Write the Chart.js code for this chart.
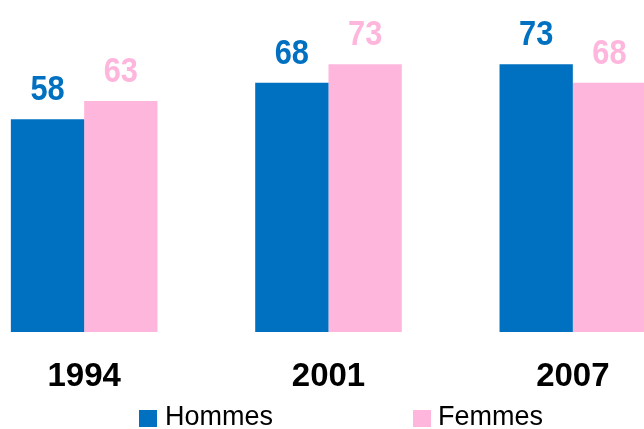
<!DOCTYPE html>
<html>
<head>
<meta charset="utf-8">
<script src="https://cdn.jsdelivr.net/npm/chart.js@4/dist/chart.umd.min.js"></script>
<style>
  html, body { margin: 0; padding: 0; background: #ffffff; }
  #wrap { position: relative; width: 644px; height: 429px; overflow: hidden; background: #fff; }
  #c { position: absolute; left: -38px; top: 0; }
  .lg { position: absolute; top: 403px; height: 27px; line-height: 27px; font-family: "Liberation Sans", Arial, sans-serif; font-size: 27px; color: #000; white-space: nowrap; }
  .box { position: absolute; top: 410px; width: 18px; height: 17px; }
</style>
</head>
<body>
<div id="wrap">
  <canvas id="c" width="733" height="429"></canvas>
  <div class="box" style="left:139px;background:#0070C0"></div>
  <div class="lg" style="left:165px">Hommes</div>
  <div class="box" style="left:413px;background:#FFB6DC"></div>
  <div class="lg" style="left:438px">Femmes</div>
</div>
<script>
const categories = ["1994", "2001", "2007"];
const hommes = [58, 68, 73];
const femmes = [63, 73, 68];
const seriesNames = ["Hommes", "Femmes"];

const blue = "#0070C0";
const pink = "#FFB6DC";

const valueLabels = {
  id: "valueLabels",
  afterDatasetsDraw(chart) {
    const ctx = chart.ctx;
    chart.data.datasets.forEach((ds, i) => {
      const meta = chart.getDatasetMeta(i);
      meta.data.forEach((el, j) => {
        ctx.save();
        ctx.translate(el.x, el.y - 19);
        ctx.scale(0.88, 1);
        ctx.font = 'bold 35px "Liberation Sans Narrow", "Liberation Sans", Arial, sans-serif';
        ctx.textAlign = "center";
        ctx.textBaseline = "alphabetic";
        ctx.fillStyle = ds.backgroundColor;
        ctx.fillText(String(ds.data[j]), 0, 0);
        ctx.restore();
      });
    });
  }
};

new Chart(document.getElementById("c"), {
  type: "bar",
  data: {
    labels: categories,
    datasets: [
      { label: seriesNames[0], data: hommes, backgroundColor: blue, borderWidth: 0 },
      { label: seriesNames[1], data: femmes, backgroundColor: pink, borderWidth: 0 }
    ]
  },
  options: {
    responsive: false,
    animation: false,
    devicePixelRatio: 1,
    layout: { padding: { top: 2, left: 0, right: 0, bottom: 0 } },
    datasets: { bar: { categoryPercentage: 0.6, barPercentage: 1.0 } },
    plugins: { legend: { display: false }, tooltip: { enabled: false } },
    scales: {
      y: { display: false, min: 0, max: 90 },
      x: {
        grid: { display: false, drawTicks: false, tickLength: 0 },
        border: { display: false },
        ticks: {
          color: "#000",
          padding: 25,
          font: { family: '"Liberation Sans", Arial, sans-serif', size: 33, weight: "bold" }
        },
        afterFit(scale) { scale.height = 97; }
      }
    }
  },
  plugins: [valueLabels]
});
</script>
</body>
</html>
